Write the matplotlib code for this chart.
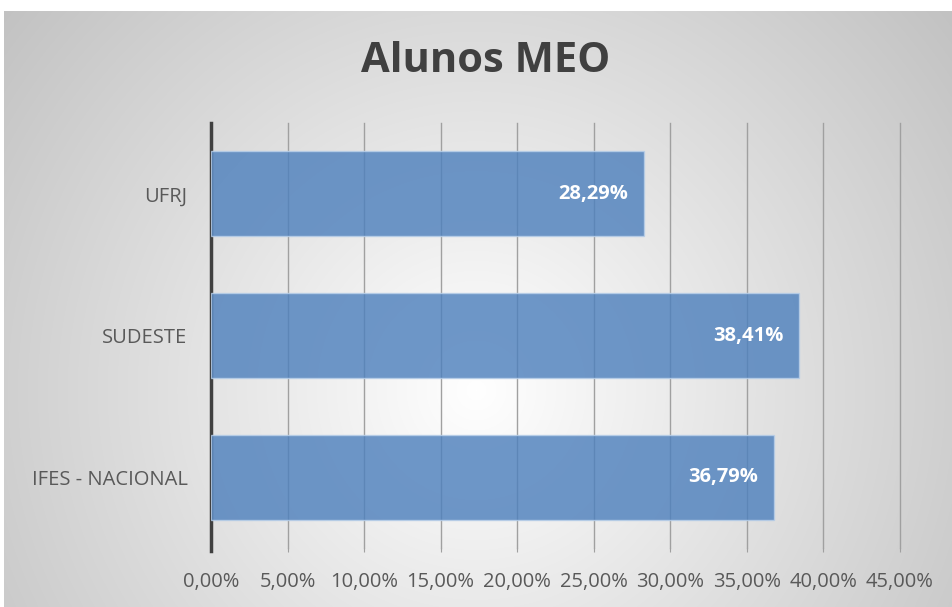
import numpy as np
import matplotlib.pyplot as plt

categorias = ["IFES - NACIONAL", "SUDESTE", "UFRJ"]
valores = [0.3679, 0.3841, 0.2829]
rotulos = ["36,79%", "38,41%", "28,29%"]
ticks = [0, 0.05, 0.10, 0.15, 0.20, 0.25, 0.30, 0.35, 0.40, 0.45]
tick_labels = ["0,00%", "5,00%", "10,00%", "15,00%", "20,00%", "25,00%",
               "30,00%", "35,00%", "40,00%", "45,00%"]

plt.rcParams["font.family"] = ["Open Sans", "DejaVu Sans"]

W, H = 952, 607
fig = plt.figure(figsize=(W / 100, H / 100), dpi=100)

# fundo com gradiente radial
yy, xx = np.mgrid[0:H, 0:W]
r = np.sqrt((xx - 476) ** 2 + (yy - 390) ** 2) / 610.0
g = 1.0 - 0.24 * np.clip(r, 0, 1)
img = np.dstack([g, g, g])
img[:11, :, :] = 1.0
img[:, :4, :] = 1.0
bg = fig.add_axes([0, 0, 1, 1], zorder=-1)
bg.imshow(img, aspect="auto", extent=[0, W, H, 0])
bg.axis("off")

ax = fig.add_axes([211 / W, 59 / H, 689 / W, 425 / H])
ax.set_facecolor("none")

pos = np.arange(len(categorias))
ax.barh(pos, valores, height=0.6, color="#4f81bd", alpha=0.82,
        edgecolor="#b8cfe9", linewidth=1, zorder=3)

for p, v, t in zip(pos, valores, rotulos):
    ax.annotate(t, (v, p), xytext=(-11.5, 0), textcoords="offset points",
                ha="right", va="center", color="white",
                fontsize=14.5, fontweight="bold", zorder=4)

ax.set_xlim(0, 0.45)
ax.set_ylim(-0.5, 2.5)
ax.set_xticks(ticks)
ax.set_xticklabels(tick_labels)
ax.set_yticks(pos)
ax.set_yticklabels(categorias)
ax.grid(axis="x", color="#a0a0a0", linewidth=1, zorder=0)
for gl in ax.get_xgridlines():
    gl.set_clip_on(False)
ax.tick_params(axis="x", length=3, color="#a0a0a0", pad=14,
               labelsize=14.5, labelcolor="#595959")
ax.tick_params(axis="y", length=0, pad=17, labelsize=14.5, labelcolor="#595959")

for s in ["top", "right", "bottom"]:
    ax.spines[s].set_visible(False)
ax.spines["left"].set_color("#404040")
ax.spines["left"].set_linewidth(2.5)
ax.spines["left"].set_bounds(-0.5 - 3 / 142.5, 2.5)

fig.text(486 / W, 1 - 62 / H, "Alunos MEO", ha="center", va="center",
         fontsize=30, fontweight="bold", color="#404040")

fig.savefig("out.png", dpi=100)
